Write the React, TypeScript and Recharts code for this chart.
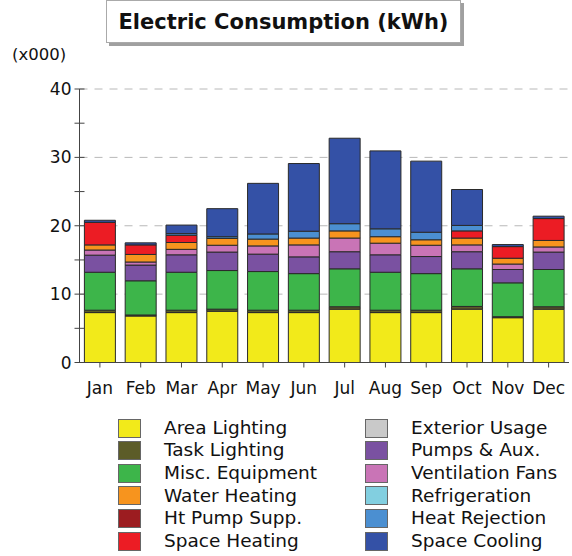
import { Bar, BarChart, CartesianGrid, XAxis, YAxis } from "recharts";

// monthly electric consumption, thousands of kWh
const months = ["Jan", "Feb", "Mar", "Apr", "May", "Jun", "Jul", "Aug", "Sep", "Oct", "Nov", "Dec"];

const areaLighting = [7.3, 6.8, 7.3, 7.5, 7.3, 7.3, 7.8, 7.3, 7.3, 7.8, 6.55, 7.8];
const taskLighting = [0.35, 0.15, 0.35, 0.3, 0.35, 0.35, 0.35, 0.35, 0.35, 0.4, 0.15, 0.35];
const miscEquipment = [5.55, 5.0, 5.55, 5.65, 5.65, 5.35, 5.55, 5.55, 5.35, 5.5, 4.95, 5.45];
const exteriorUsage = [0, 0, 0, 0, 0, 0, 0, 0, 0, 0, 0, 0];
const pumpsAux = [2.5, 2.3, 2.55, 2.7, 2.55, 2.45, 2.5, 2.55, 2.5, 2.5, 1.95, 2.55];
const ventFans = [0.75, 0.45, 0.8, 1.0, 1.2, 1.75, 2.0, 1.7, 1.65, 1.0, 0.8, 0.75];
const refrigeration = [0, 0, 0, 0, 0, 0, 0, 0, 0, 0, 0, 0];
const waterHeating = [0.75, 1.1, 1.0, 1.0, 1.0, 1.0, 1.05, 0.95, 0.8, 1.0, 0.85, 0.95];
const htPumpSupp = [0, 0, 0, 0, 0, 0, 0, 0, 0, 0, 0, 0];
const spaceHeating = [3.3, 1.4, 1.05, 0, 0, 0, 0, 0, 0, 1.05, 1.7, 3.2];
const heatRejection = [0, 0, 0.25, 0.25, 0.75, 1.0, 1.05, 1.15, 1.1, 0.8, 0, 0];
const spaceCooling = [0.3, 0.3, 1.25, 4.1, 7.4, 9.9, 12.5, 11.4, 10.4, 5.25, 0.3, 0.35];

const yTicks = [0, 5, 10, 15, 20, 25, 30, 35, 40];

// stacking order bottom -> top
const series = [
  { key: "area", name: "Area Lighting", color: "#f2ea1a", values: areaLighting },
  { key: "task", name: "Task Lighting", color: "#5c5c28", values: taskLighting },
  { key: "misc", name: "Misc. Equipment", color: "#3db54a", values: miscEquipment },
  { key: "ext", name: "Exterior Usage", color: "#c9c9c9", values: exteriorUsage },
  { key: "pumps", name: "Pumps & Aux.", color: "#7a51a1", values: pumpsAux },
  { key: "vent", name: "Ventilation Fans", color: "#c974b6", values: ventFans },
  { key: "refrig", name: "Refrigeration", color: "#82cfe0", values: refrigeration },
  { key: "water", name: "Water Heating", color: "#f7941e", values: waterHeating },
  { key: "htpump", name: "Ht Pump Supp.", color: "#9c1c20", values: htPumpSupp },
  { key: "heat", name: "Space Heating", color: "#ec1c24", values: spaceHeating },
  { key: "rej", name: "Heat Rejection", color: "#4b8fd1", values: heatRejection },
  { key: "cool", name: "Space Cooling", color: "#3451a6", values: spaceCooling },
];

const legendLeft = ["area", "task", "misc", "water", "htpump", "heat"];
const legendRight = ["ext", "pumps", "vent", "refrig", "rej", "cool"];

const data = months.map((m, i) => {
  const row: Record<string, number | string> = { month: m };
  series.forEach((s) => (row[s.key] = s.values[i]));
  return row;
});

const font = "'DejaVu Sans', Verdana, sans-serif";

const YTick = (props: any) => {
  const { x, y, payload } = props;
  const major = payload.value % 10 === 0;
  return (
    <g>
      <line x1={x - 5} x2={x + 5} y1={y} y2={y} stroke="#444" />
      {major && (
        <text x={x - 8} y={y} dy="0.36em" textAnchor="end" fontSize={17} fill="#111" fontFamily={font}>
          {payload.value}
        </text>
      )}
    </g>
  );
};

function LegendColumn({ keys, boxLeft, textLeft }: { keys: string[]; boxLeft: number; textLeft: number }) {
  return (
    <>
      {keys.map((k, i) => {
        const s = series.find((d) => d.key === k)!;
        const cy = 428 + i * 22.6;
        return (
          <div key={k}>
            <div
              style={{
                position: "absolute",
                left: boxLeft,
                top: cy - 9.5,
                width: 21,
                height: 17,
                background: s.color,
                border: "1px solid #666",
              }}
            />
            <div
              style={{
                position: "absolute",
                left: textLeft,
                top: cy - 11.3,
                height: 22.6,
                lineHeight: "22.6px",
                fontSize: 18.5,
                color: "#111",
                whiteSpace: "nowrap",
              }}
            >
              {s.name}
            </div>
          </div>
        );
      })}
    </>
  );
}

export default function App() {
  return (
    <div
      style={{
        position: "absolute",
        left: 0,
        top: 0,
        width: 572,
        height: 556,
        background: "#fff",
        fontFamily: font,
      }}
    >
      <div
        style={{
          position: "absolute",
          left: 106,
          top: 0,
          width: 353,
          height: 41,
          border: "1px solid #aaa",
          boxShadow: "3px 3px 0 #a0a0a0",
          display: "flex",
          alignItems: "center",
          justifyContent: "center",
          fontWeight: "bold",
          fontSize: 21,
          color: "#111",
        }}
      >
        Electric Consumption (kWh)
      </div>
      <div style={{ position: "absolute", left: 12, top: 45, fontSize: 16.5, lineHeight: "20px", color: "#111" }}>
        (x000)
      </div>

      <BarChart
        width={572}
        height={556}
        data={data}
        margin={{ top: 89, right: 3, bottom: 163.5, left: 19.5 }}
        barCategoryGap="12%"
      >
        <CartesianGrid vertical={false} horizontalValues={[10, 20, 30, 40]} stroke="#b8b8b8" strokeDasharray="8 7" />
        <XAxis
          dataKey="month"
          height={30}
          axisLine={{ stroke: "#444" }}
          tickLine={{ stroke: "#444" }}
          tickSize={5}
          tickMargin={14}
          tick={{ fill: "#111", fontSize: 17, fontFamily: font }}
          interval={0}
        />
        <YAxis
          width={60}
          domain={[0, 40]}
          ticks={yTicks}
          interval={0}
          axisLine={{ stroke: "#444" }}
          tickLine={false}
          tickSize={0}
          tickMargin={0}
          tick={<YTick />}
        />
        {series.map((s) => (
          <Bar
            key={s.key}
            dataKey={s.key}
            name={s.name}
            stackId="a"
            fill={s.color}
            stroke="#2a2a2a"
            strokeWidth={1}
            isAnimationActive={false}
          />
        ))}
      </BarChart>

      <LegendColumn keys={legendLeft} boxLeft={118} textLeft={164} />
      <LegendColumn keys={legendRight} boxLeft={365} textLeft={411} />
    </div>
  );
}
